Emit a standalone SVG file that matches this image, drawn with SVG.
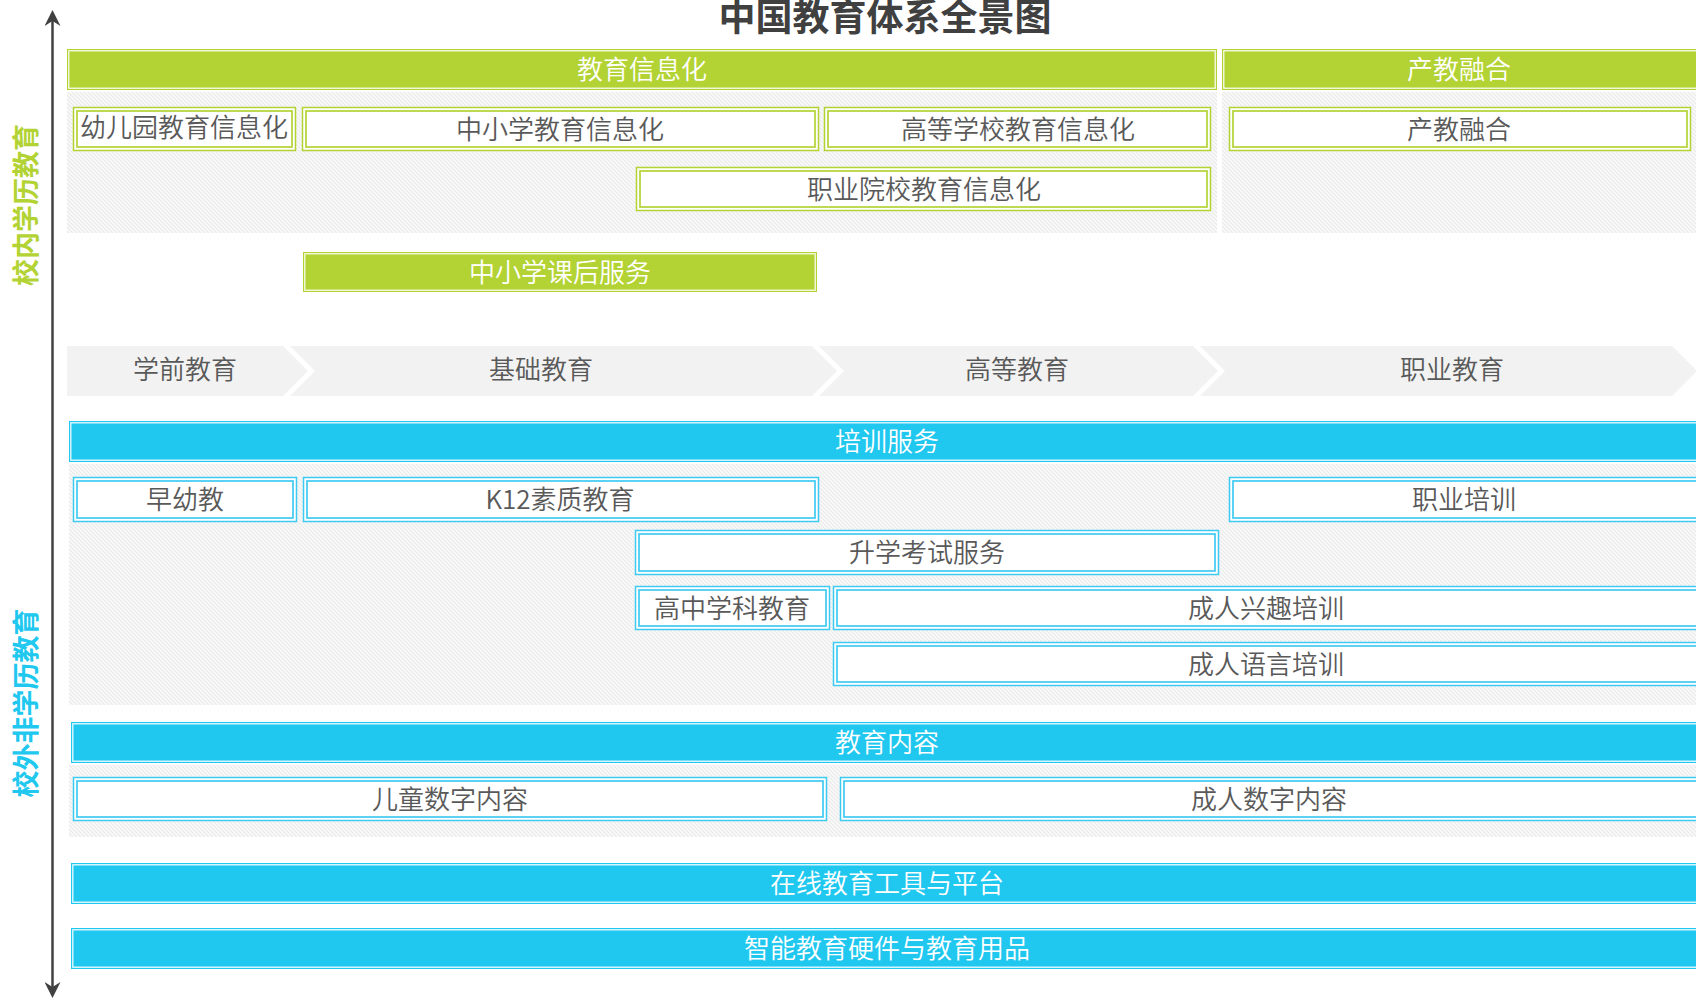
<svg xmlns="http://www.w3.org/2000/svg" width="1696" height="998" viewBox="0 0 1696 998">
  <defs>
    <pattern id="hatch" x="0" y="0" width="4" height="4" patternUnits="userSpaceOnUse">
      <rect width="4" height="4" fill="#fbfbfb"/>
      <path d="M-1,-1 L5,5 M-1,3 L1,5 M3,-1 L5,1" stroke="#ebebeb" stroke-width="1.3"/>
    </pattern>
    <marker id="ah" viewBox="0 0 16 16" refX="5" refY="8" markerWidth="16" markerHeight="16" markerUnits="userSpaceOnUse" orient="auto-start-reverse">
      <path d="M0,0 L16,8 L0,16 L5,8 Z" fill="#404040"/>
    </marker>
    <style>
      text { font-family: "Noto Sans CJK SC", "Noto Sans", "Liberation Sans", sans-serif; text-anchor: middle; dominant-baseline: central; }
      .title { font-size: 37px; font-weight: bold; fill: #404040; }
      .side { font-size: 27px; font-weight: bold; }
      .lbl { font-size: 26px; font-weight: 350; fill: #595959; }
      .wlbl { font-size: 26px; font-weight: 350; fill: #ffffff; }
      .hatch { fill: url(#hatch); }
      .gfill { fill: #b3d334; }
      .bfill { fill: #20c8f0; }
      .inner-w { fill: none; stroke: #ffffff; stroke-width: 1.2; }
      .wbox-g { fill: #ffffff; stroke: #b3d334; stroke-width: 1.5; }
      .wline-g { fill: none; stroke: #b3d334; stroke-width: 1.7; }
      .wbox-b { fill: #ffffff; stroke: #3fcbf1; stroke-width: 1.5; }
      .wline-b { fill: none; stroke: #3fcbf1; stroke-width: 1.7; }
      .chev { fill: #f2f2f2; }
      .axis { stroke: #404040; stroke-width: 2.5; fill: none; }
    </style>
  </defs>

  <rect width="1696" height="998" fill="#ffffff"/>

  <text class="title" x="885" y="15">中国教育体系全景图</text>

  <!-- side labels -->
  <text class="side" fill="#b3d334" transform="translate(24,205) rotate(-90)">校内学历教育</text>
  <text class="side" fill="#20c8f0" transform="translate(24,703) rotate(-90)">校外非学历教育</text>

  <!-- background hatched areas -->
  <rect class="hatch" x="67" y="92" width="1150" height="141"/>
  <rect class="hatch" x="1222" y="92" width="474" height="141"/>
  <rect class="hatch" x="69" y="464" width="1627" height="241"/>
  <rect class="hatch" x="69" y="765" width="1627" height="72"/>

  <!-- green section -->
  <g id="jiaoyu-xinxihua">
    <rect class="gfill" x="67" y="49" width="1150" height="41"/>
    <rect class="inner-w" x="68.8" y="50.8" width="1146.4" height="37.4"/>
    <text class="wlbl" x="642" y="67">教育信息化</text>
  </g>
  <g id="chanjiao-header">
    <rect class="gfill" x="1222" y="49" width="490" height="41"/>
    <rect class="inner-w" x="1223.8" y="50.8" width="486.4" height="37.4"/>
    <text class="wlbl" x="1459" y="67">产教融合</text>
  </g>
  <g id="youeryuan">
    <rect class="wbox-g" x="73.5" y="107.5" width="222" height="43"/>
    <rect class="wline-g" x="77" y="111" width="215" height="36"/>
    <text class="lbl" x="184" y="125">幼儿园教育信息化</text>
  </g>
  <g id="zhongxiaoxue-xxh">
    <rect class="wbox-g" x="302.5" y="107.5" width="516" height="43"/>
    <rect class="wline-g" x="306" y="111" width="509" height="36"/>
    <text class="lbl" x="560" y="127">中小学教育信息化</text>
  </g>
  <g id="gaodeng-xxh">
    <rect class="wbox-g" x="824.5" y="107.5" width="386" height="43"/>
    <rect class="wline-g" x="828" y="111" width="379" height="36"/>
    <text class="lbl" x="1018" y="127">高等学校教育信息化</text>
  </g>
  <g id="chanjiao-box">
    <rect class="wbox-g" x="1229.5" y="107.5" width="461" height="43"/>
    <rect class="wline-g" x="1233" y="111" width="454" height="36"/>
    <text class="lbl" x="1459" y="127">产教融合</text>
  </g>
  <g id="zhiye-xxh">
    <rect class="wbox-g" x="636.5" y="167.5" width="574" height="43"/>
    <rect class="wline-g" x="640" y="171" width="567" height="36"/>
    <text class="lbl" x="924" y="187">职业院校教育信息化</text>
  </g>
  <g id="kehou-fuwu">
    <rect class="gfill" x="303" y="252" width="514" height="40"/>
    <rect class="inner-w" x="304.8" y="253.8" width="510.4" height="36.4"/>
    <text class="wlbl" x="560" y="270">中小学课后服务</text>
  </g>

  <!-- stage chevrons -->
  <g id="xueqian">
    <polygon class="chev" points="67,346 283,346 308,371 283,396 67,396"/>
    <text class="lbl" x="185" y="367">学前教育</text>
  </g>
  <g id="jichu">
    <polygon class="chev" points="290,346 812,346 837,371 812,396 290,396 315,371"/>
    <text class="lbl" x="541" y="367">基础教育</text>
  </g>
  <g id="gaodeng">
    <polygon class="chev" points="819,346 1193,346 1218,371 1193,396 819,396 844,371"/>
    <text class="lbl" x="1017" y="367">高等教育</text>
  </g>
  <g id="zhiye">
    <polygon class="chev" points="1200,346 1672,346 1697,371 1672,396 1200,396 1225,371"/>
    <text class="lbl" x="1452" y="367">职业教育</text>
  </g>

  <!-- blue section -->
  <g id="peixun-fuwu">
    <rect class="bfill" x="69" y="421" width="1650" height="41"/>
    <rect class="inner-w" x="70.8" y="422.8" width="1646.4" height="37.4"/>
    <text class="wlbl" x="887" y="439">培训服务</text>
  </g>
  <g id="zaoyoujiao">
    <rect class="wbox-b" x="73.5" y="477.5" width="223" height="44"/>
    <rect class="wline-b" x="77" y="481" width="216" height="37"/>
    <text class="lbl" x="185" y="497">早幼教</text>
  </g>
  <g id="k12">
    <rect class="wbox-b" x="303.5" y="477.5" width="515" height="44"/>
    <rect class="wline-b" x="307" y="481" width="508" height="37"/>
    <text class="lbl" x="560" y="497">K12素质教育</text>
  </g>
  <g id="zhiye-peixun">
    <rect class="wbox-b" x="1229.5" y="477.5" width="480" height="44"/>
    <rect class="wline-b" x="1233" y="481" width="473" height="37"/>
    <text class="lbl" x="1464" y="497">职业培训</text>
  </g>
  <g id="shengxue">
    <rect class="wbox-b" x="635.5" y="530.5" width="583" height="44"/>
    <rect class="wline-b" x="639" y="534" width="576" height="37"/>
    <text class="lbl" x="927" y="550">升学考试服务</text>
  </g>
  <g id="gaozhong">
    <rect class="wbox-b" x="635.5" y="586.5" width="194" height="43"/>
    <rect class="wline-b" x="639" y="590" width="187" height="36"/>
    <text class="lbl" x="732" y="606">高中学科教育</text>
  </g>
  <g id="xingqu">
    <rect class="wbox-b" x="833.5" y="586.5" width="880" height="43"/>
    <rect class="wline-b" x="837" y="590" width="873" height="36"/>
    <text class="lbl" x="1266" y="606">成人兴趣培训</text>
  </g>
  <g id="yuyan">
    <rect class="wbox-b" x="833.5" y="642.5" width="880" height="43"/>
    <rect class="wline-b" x="837" y="646" width="873" height="36"/>
    <text class="lbl" x="1266" y="662">成人语言培训</text>
  </g>
  <g id="jiaoyu-neirong">
    <rect class="bfill" x="71" y="722" width="1650" height="41"/>
    <rect class="inner-w" x="72.8" y="723.8" width="1646.4" height="37.4"/>
    <text class="wlbl" x="887" y="740">教育内容</text>
  </g>
  <g id="ertong">
    <rect class="wbox-b" x="73.5" y="777.5" width="753" height="43"/>
    <rect class="wline-b" x="77" y="781" width="746" height="36"/>
    <text class="lbl" x="450" y="797">儿童数字内容</text>
  </g>
  <g id="chengren">
    <rect class="wbox-b" x="840.5" y="777.5" width="870" height="43"/>
    <rect class="wline-b" x="844" y="781" width="863" height="36"/>
    <text class="lbl" x="1269" y="797">成人数字内容</text>
  </g>
  <g id="zaixian">
    <rect class="bfill" x="71" y="863" width="1650" height="41"/>
    <rect class="inner-w" x="72.8" y="864.8" width="1646.4" height="37.4"/>
    <text class="wlbl" x="887" y="881">在线教育工具与平台</text>
  </g>
  <g id="yingjian">
    <rect class="bfill" x="71" y="928" width="1650" height="41"/>
    <rect class="inner-w" x="72.8" y="929.8" width="1646.4" height="37.4"/>
    <text class="wlbl" x="887" y="946">智能教育硬件与教育用品</text>
  </g>

  <!-- connectors -->
  <g id="connectors">
    <line class="axis" x1="52.5" y1="21" x2="52.5" y2="987" marker-start="url(#ah)" marker-end="url(#ah)"/>
  </g>
</svg>
